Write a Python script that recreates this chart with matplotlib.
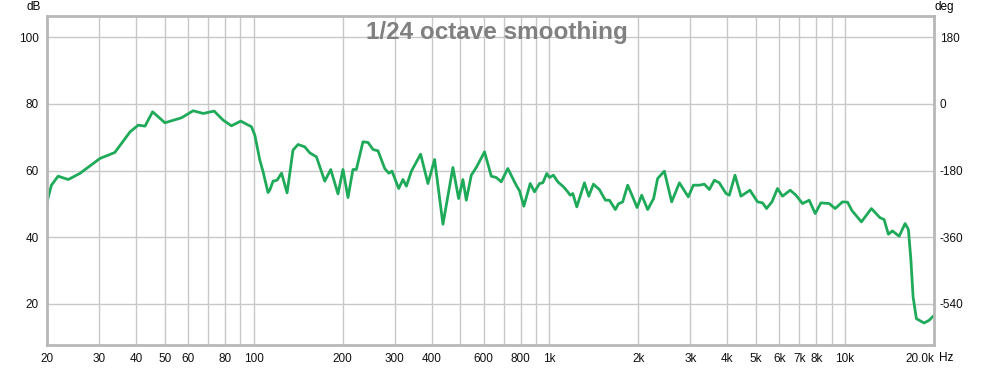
import matplotlib
matplotlib.use("Agg")
from matplotlib import pyplot as plt

# frequency response
freq_hz = [20, 20.7, 21.8, 23.6, 25.8, 30.2, 33.9, 38.2, 40.7, 42.9,
           45.5, 48.2, 50.1, 57.0, 62.4, 67.5, 73.5, 78.8, 84.1, 90.4,
           98.3, 100.9, 104.9, 107.6, 111.8, 113.3, 116.3, 120.0, 124.2, 129.7,
           135.8, 141.3, 148.8, 154.7, 163.0, 173.9, 182.2, 192.8, 200.4, 208.4,
           216.6, 222.4, 234.2, 243.6, 253.3, 263.3, 277.4, 286.2, 293.6, 309.3,
           319.8, 328.4, 341.5, 366.9, 388.4, 409.1, 436.6, 471.8, 493.2, 510,
           523.7, 544.4, 565.9, 603.6, 636, 661.2, 687.4, 723.4, 772.4, 792.6,
           819.6, 861.4, 890.6, 926, 950, 980, 1001, 1032, 1068, 1116,
           1154, 1176, 1200, 1238, 1314, 1359, 1409, 1476, 1547, 1596,
           1672, 1712, 1770, 1840, 1913, 1980, 2052, 2150, 2252, 2324,
           2448, 2592, 2752, 2950, 3068, 3214, 3342, 3476, 3614, 3756,
           3958, 4060, 4244, 4446, 4768, 5058, 5260, 5426, 5658, 5910,
           6144, 6524, 6820, 7180, 7564, 7926, 8284, 8836, 9258, 9800,
           10200, 10550, 11360, 12276, 13110, 13554, 14014, 14460, 15236, 15960,
           16378, 16686, 16988, 17428, 18500, 19236, 19740, 20000]
level_db = [50.6, 55.6, 58.3, 57.3, 59.1, 63.6, 65.4, 71.6, 73.6, 73.3,
            77.6, 75.6, 74.3, 75.8, 77.9, 77.1, 77.8, 75.1, 73.4, 74.8,
            73.1, 70.6, 63.1, 59.6, 53.4, 54.1, 56.8, 57.1, 59.2, 53.3,
            66.1, 67.8, 67.1, 65.3, 64.1, 56.8, 60.3, 53.0, 60.3, 51.9,
            60.3, 60.3, 68.6, 68.4, 66.3, 65.9, 60.6, 59.2, 59.8, 54.6,
            57.3, 55.3, 59.8, 64.9, 56.1, 63.3, 43.9, 60.9, 51.6, 57.3,
            51.1, 58.6, 60.9, 65.6, 58.3, 57.9, 56.6, 60.6, 55.6, 53.9,
            49.3, 56.1, 53.6, 56.1, 56.3, 59.1, 57.9, 58.6, 56.6, 55.1,
            53.6, 52.6, 53.1, 49.1, 56.3, 52.3, 55.9, 54.3, 51.1, 51.1,
            48.3, 50.0, 50.6, 55.6, 52.1, 48.9, 52.6, 48.3, 51.6, 57.6,
            59.8, 50.6, 56.3, 52.1, 55.6, 55.6, 55.9, 54.3, 57.1, 56.3,
            53.1, 52.6, 58.6, 52.3, 54.1, 50.6, 50.3, 48.6, 50.6, 54.6,
            52.3, 54.1, 52.6, 50.1, 51.1, 47.1, 50.3, 50.1, 48.6, 50.6,
            50.5, 48.0, 44.6, 48.6, 45.9, 45.3, 40.9, 41.9, 40.3, 44.1,
            42.3, 33.6, 22.1, 15.6, 14.3, 15.1, 16.1, 16.5]

# x grid lines and their labels ('' = line only)
grid_hz = [20, 30, 40, 50, 60, 70, 80, 90, 100,
           200, 300, 400, 500, 600, 700, 800, 900, 1000,
           2000, 3000, 4000, 5000, 6000, 7000, 8000, 9000, 10000, 20000]
grid_labels = ["20", "30", "40", "50", "60", "", "80", "", "100",
               "200", "300", "400", "", "600", "", "800", "", "1k",
               "2k", "3k", "4k", "5k", "6k", "7k", "8k", "", "10k", "20.0k"]
db_ticks = [20, 40, 60, 80, 100]
deg_ticks = [180, 0, -180, -360, -540]

plt.rcParams["font.family"] = ["Liberation Sans", "DejaVu Sans"]
plt.rcParams["axes.unicode_minus"] = False

fig = plt.figure(figsize=(9.92, 3.69), dpi=100)
ax = fig.add_axes([0.0474, 0.065, 0.8942, 0.8916])

ax.plot(freq_hz, level_db, color="#1faa5a", lw=2.0, solid_joinstyle="round")

ax.set_xscale("log")
ax.set_xlim(20, 20000)
ax.set_ylim(7.7, 106.3)
ax.set_xticks(grid_hz)
ax.set_xticklabels(grid_labels)
ax.minorticks_off()
ax.set_yticks(db_ticks)
ax.grid(True, color="#c8c8c8", lw=1)
ax.tick_params(length=0, labelsize=8.5, colors="#111111", pad=6)
ax.get_xticklabels()[-1].set_ha("right")
for sp in ax.spines.values():
    sp.set_color("#b8b8b8")
    sp.set_linewidth(2.0)

# phase axis on the right (deg = (dB - 80) * 9)
ax2 = ax.secondary_yaxis("right", functions=(lambda d: (d - 80) * 9, lambda g: g / 9 + 80))
ax2.set_yticks(deg_ticks)
ax2.tick_params(length=0, labelsize=8.5, colors="#111111", pad=4)
ax2.spines["right"].set_visible(False)

ax.text(-0.015, 1.01, "dB", transform=ax.transAxes, ha="center", va="bottom", fontsize=8.5)
ax.text(1.0, 1.01, "deg", transform=ax.transAxes, ha="left", va="bottom", fontsize=8.5)
ax.text(1.005, -0.04, "Hz", transform=ax.transAxes, ha="left", va="center", fontsize=8.5)
ax.text(0.507, 0.985, "1/24 octave smoothing", transform=ax.transAxes, ha="center", va="top",
        fontsize=17.5, fontweight="bold", color="#808080")

fig.savefig("out.png", dpi=100)
